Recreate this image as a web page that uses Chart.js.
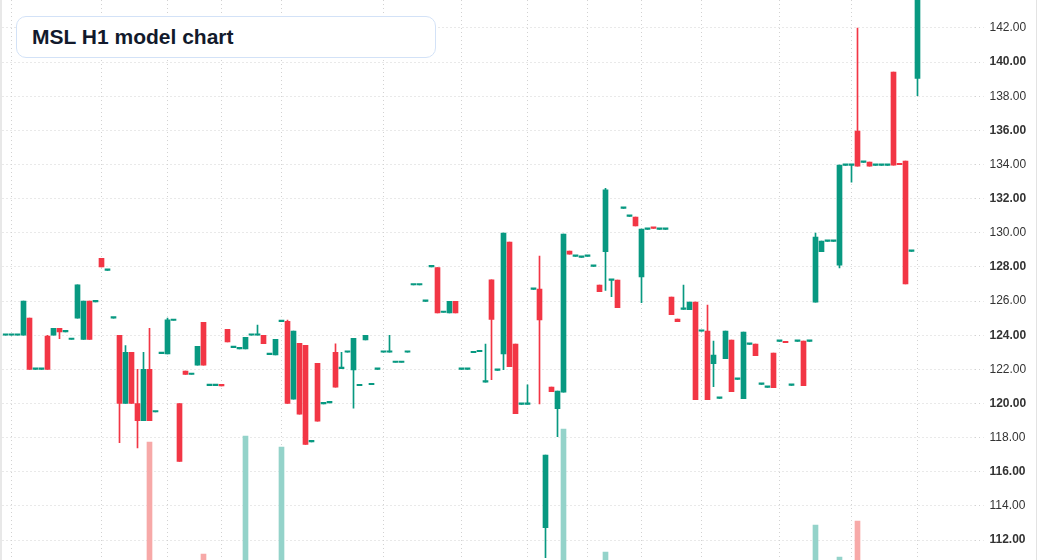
<!DOCTYPE html>
<html>
<head>
<meta charset="utf-8">
<title>MSL H1 model chart</title>
<script src="https://cdn.jsdelivr.net/npm/chart.js@4.4.1/dist/chart.umd.min.js"></script>
<style>
	html, body { margin: 0; padding: 0; background: #fff; overflow: hidden; }
	#wrap { position: relative; width: 1034px; height: 560px; border-left: 2px solid #e8e8e8; border-right: 1px solid #e3e3e3; }
	#title { position: absolute; left: 14px; top: 16px; width: 420px; height: 42px; box-sizing: border-box;
		border: 1px solid #d3e2f7; border-radius: 10px; background: #fff; padding-left: 15px;
		font: bold 21px "Liberation Sans", Arial, sans-serif; color: #121a2c; line-height: 40px; }
</style>
</head>
<body>
<div id="wrap">
	<canvas id="chart"></canvas>
	<div id="title">MSL H1 model chart</div>
</div>
<script>
// hourly candles
var opens = [
	124.0,124.0,124.0,124.0,125.0,122.0,122.0,123.95,124.0,124.4,
	124.2,123.75,125.0,123.75,126.0,125.95,128.5,127.8,125.0,124.0,
	120.0,123.0,120.0,119.0,122.0,119.5,122.92,122.9,124.86,120.0,
	121.9,121.7,122.25,124.75,121.05,121.05,121.05,124.35,123.27,123.2,
	123.2,124.0,124.0,124.0,122.86,122.84,124.8,124.82,120.25,123.53,
	123.41,117.75,122.35,119.98,120.04,123.0,122.04,123.0,121.96,121.04,
	123.73,121.1,122.0,123.0,123.0,122.4,122.4,123.0,126.94,126.94,
	125.98,128.0,127.96,125.33,125.31,125.98,122.0,122.0,122.97,123.03,
	121.25,127.25,121.94,122.9,129.46,123.48,119.95,119.95,126.69,126.7,
	112.72,120.96,119.7,120.67,128.93,128.62,128.56,128.62,128.03,126.94,
	128.89,127.21,127.23,131.43,130.96,130.92,127.41,130.2,130.28,130.2,
	130.2,126.24,124.95,125.51,125.49,125.94,124.23,124.24,122.33,120.3,
	122.62,123.72,121.41,120.28,123.46,123.48,121.12,120.94,122.95,123.64,
	123.58,121.06,123.64,123.66,123.64,125.94,128.89,129.5,129.5,128.11,
	133.95,133.95,135.96,134.13,134.14,133.95,133.95,133.95,139.42,134.01,
	134.2,128.91,139.05
];
var highs = [
	124.0,124.0,124.0,126.0,125.0,122.0,122.0,124.0,124.4,124.4,
	124.2,123.75,126.95,126.0,126.0,125.95,128.5,127.8,125.0,124.0,
	123.4,123.0,122.0,123.0,124.4,119.5,122.92,125.0,124.86,120.0,
	121.9,121.7,123.35,124.75,121.05,121.05,121.05,124.35,123.27,123.2,
	123.88,124.0,124.6,124.0,122.86,123.76,124.8,124.88,124.24,123.53,
	123.41,117.75,122.35,120.05,120.04,123.5,123.0,123.0,123.82,121.04,
	124.0,121.1,122.0,123.0,124.0,122.4,122.4,123.0,126.94,126.94,
	125.98,128.0,127.96,125.33,125.98,125.98,122.0,122.0,122.97,123.03,
	123.48,127.25,121.94,129.98,129.46,123.48,119.95,121.1,126.69,128.64,
	116.98,120.96,120.73,129.93,128.93,128.62,128.56,128.62,128.03,126.94,
	132.6,127.21,127.23,131.43,130.96,130.92,130.22,130.2,130.28,130.2,
	130.2,126.24,124.95,126.94,125.94,125.94,124.23,125.77,123.66,120.3,
	124.24,123.72,121.41,124.19,123.46,123.48,121.12,120.94,122.95,123.64,
	123.58,121.06,123.64,123.66,123.64,129.98,129.52,129.5,129.5,133.97,
	133.95,134.01,142.0,134.13,134.14,133.95,133.95,133.95,139.42,134.01,
	134.2,128.91,144.2
];
var lows = [
	124.0,124.0,124.0,124.0,122.0,122.0,122.0,122.0,124.0,123.8,
	124.2,123.75,125.0,123.75,123.75,125.95,128.0,127.8,125.0,117.7,
	120.0,120.0,117.4,119.0,119.0,119.5,122.92,122.9,124.86,116.6,
	121.7,121.7,122.25,122.25,121.05,121.05,121.03,123.6,123.27,123.2,
	123.2,124.0,124.0,123.5,122.86,122.84,124.8,120.0,120.25,119.37,
	117.6,117.75,118.96,119.98,120.04,120.96,122.04,123.0,119.73,121.04,
	123.73,121.1,122.0,123.0,123.0,122.4,122.4,123.0,126.94,126.94,
	125.98,128.0,125.31,125.33,125.31,125.31,122.0,122.0,122.97,123.03,
	121.25,121.4,121.94,121.98,122.15,119.4,119.95,119.95,126.69,119.98,
	110.96,120.69,118.05,120.67,128.75,128.62,128.56,128.62,128.03,126.55,
	126.63,126.26,125.61,131.43,130.96,130.41,125.9,130.2,130.26,130.2,
	130.2,125.2,124.79,125.51,125.49,120.22,124.23,120.22,120.98,120.3,
	122.62,120.69,121.41,120.28,123.46,122.8,121.12,120.94,120.92,123.64,
	123.56,121.06,123.64,121.04,123.64,125.94,128.89,129.5,129.5,127.95,
	133.95,132.97,133.91,134.13,133.91,133.95,133.95,133.95,133.97,133.99,
	127.01,128.91,138.03
];
var closes = [
	124.0,124.0,124.0,126.0,122.0,122.0,122.0,122.0,124.4,124.2,
	124.2,123.75,126.95,126.0,123.75,125.95,128.0,127.8,125.0,120.0,
	123.0,120.0,119.0,122.0,119.0,119.5,122.92,124.9,124.86,116.6,
	121.7,121.7,123.35,122.25,121.05,121.05,121.03,123.6,123.27,123.2,
	123.88,124.0,124.0,123.5,122.86,123.76,124.8,120.0,124.24,119.37,
	117.6,117.75,118.96,119.98,120.04,120.96,122.04,123.0,123.82,121.04,
	124.0,121.1,122.0,123.0,123.0,122.4,122.4,123.0,126.94,126.94,
	125.98,128.0,125.31,125.33,125.98,125.31,122.0,122.0,122.97,123.03,
	121.25,124.93,121.94,129.98,122.15,119.4,119.95,119.95,126.69,124.9,
	116.98,120.69,120.73,129.93,128.75,128.62,128.56,128.62,128.03,126.55,
	132.52,127.21,125.61,131.43,130.96,130.41,130.22,130.2,130.26,130.2,
	130.2,125.2,124.79,125.51,125.94,120.22,124.23,120.22,122.84,120.3,
	124.24,120.69,121.41,124.19,123.46,122.8,121.12,120.94,120.92,123.64,
	123.56,121.06,123.64,121.04,123.64,129.75,129.52,129.5,129.5,133.97,
	133.95,133.95,133.91,134.13,133.91,133.95,133.95,133.95,133.97,133.99,
	127.01,128.91,144.2
];
// only the volume bars that rise into view
var volumeBars = [24, 33, 40, 46, 93, 100, 135, 139, 142];
var volumeValues = [118, 6, 124, 113, 131, 8, 35, 3, 39];
// candles where the time axis draws a line
var sessionLines = [1, 16, 27, 36, 46, 63, 76, 87, 97, 106, 116, 129, 141, 152];

var SLOTS = 162;
var UP = "#089981", DOWN = "#f23645";
var UP_VOL = "#94d3ca", DOWN_VOL = "#f7a9a8";
var GRID = "#d2d2d2";

var labels = [];
for (var i = 0; i < SLOTS; i++) labels.push(String(i));

var bodies = [], wicks = [], colors = [], volumes = [], volColors = [];
for (var i = 0; i < opens.length; i++) {
	bodies.push([opens[i], closes[i]]);
	wicks.push([lows[i], highs[i]]);
	colors.push(closes[i] >= opens[i] ? UP : DOWN);
	volumes.push(null);
	volColors.push(UP_VOL);
}
for (var k = 0; k < volumeBars.length; k++) {
	var j = volumeBars[k];
	volumes[j] = volumeValues[k];
	volColors[j] = colors[j] == UP ? UP_VOL : DOWN_VOL;
}

Chart.defaults.font.family = '"Liberation Sans", Arial, sans-serif';

new Chart(document.getElementById("chart"), {
	type: "bar",
	data: {
		labels: labels,
		datasets: [
			{ label: "volume", data: volumes, yAxisID: "yv", backgroundColor: volColors,
				barThickness: 5, grouped: false, order: 3 },
			{ label: "wick", data: wicks, yAxisID: "y", backgroundColor: colors,
				barThickness: 1, grouped: false, order: 2 },
			{ label: "body", data: bodies, yAxisID: "y", backgroundColor: colors,
				barThickness: 5, minBarLength: 1.5, grouped: false, order: 1 }
		]
	},
	options: {
		responsive: true,
		maintainAspectRatio: false,
		animation: false,
		layout: { padding: { left: 0.5, right: 0, top: 0, bottom: 0 } },
		plugins: { legend: { display: false }, tooltip: { enabled: false }, title: { display: false } },
		scales: {
			x: {
				offset: true,
				ticks: { display: false },
				border: { display: false, dash: [1, 3] },
				grid: {
					offset: false,
					drawTicks: false,
					color: function(ctx) {
						return sessionLines.indexOf(ctx.index) >= 0 ? GRID : "rgba(0,0,0,0)";
					}
				},
				afterFit: function(scale) {
					scale.height = 0;
					scale.paddingLeft = 0;
					scale.paddingRight = 0;
				}
			},
			y: {
				position: "right",
				min: 110.83,
				max: 143.64,
				border: { display: false, dash: [1, 3] },
				grid: { color: GRID, tickLength: 9, tickColor: GRID, tickBorderDash: [1, 3] },
				ticks: {
					stepSize: 2,
					padding: 6,
					color: "#333",
					font: function(ctx) {
						var v = ctx.tick ? ctx.tick.value : 0;
						return { size: 12, weight: Math.round(v) % 4 === 0 ? "bold" : "normal" };
					},
					callback: function(v) { return Number(v).toFixed(2); }
				},
				afterBuildTicks: function(scale) {
					scale.ticks = scale.ticks.filter(function(t) {
						return Math.abs(t.value / 2 - Math.round(t.value / 2)) < 1e-6;
					});
				},
				afterFit: function(scale) {
					scale.width = 61.5;
					scale.paddingTop = 0;
					scale.paddingBottom = 0;
				}
			},
			yv: {
				display: false,
				min: 0,
				max: 560
			}
		}
	}
});
</script>
</body>
</html>
